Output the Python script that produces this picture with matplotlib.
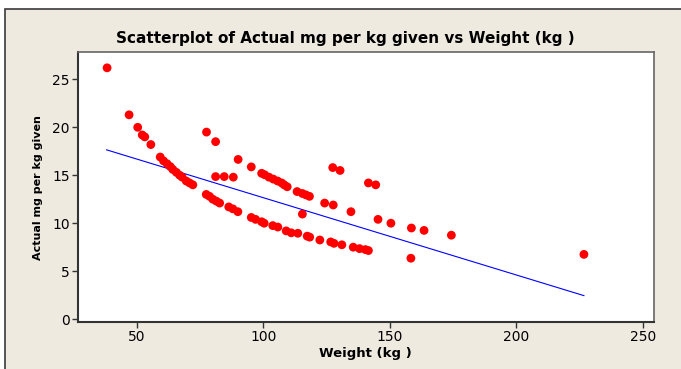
import numpy as np
import matplotlib
matplotlib.use("Agg")
import matplotlib.pyplot as plt
from matplotlib.patches import Rectangle

# Weight (kg) and actual mg per kg given
weight = [
    38.2, 46.9, 50.3, 52.1, 53.1, 55.5, 59.2, 60.5, 61.9, 63.2, 64.2, 65.6,
    66.9, 67.9, 69.5, 70.8, 72.1, 77.4, 78.7, 80.0, 81.4, 82.7, 86.3, 87.9,
    89.9, 95.2, 96.9, 99.3, 100.3, 103.7, 105.7, 109.0, 111.0, 113.6, 117.3,
    118.3, 122.3, 126.6, 127.9, 131.0, 135.5, 138.0, 140.3, 141.5,
    77.5, 81.1, 90.0, 95.2, 99.3, 100.5, 102.2, 103.9, 105.6, 107.2, 108.2,
    109.4, 113.3, 115.4, 116.8, 118.2, 124.2, 127.6,
    81.1, 84.5, 88.1, 115.4, 134.6, 145.3, 150.4, 158.5, 163.5, 174.3,
    158.3, 226.7, 127.4, 130.3, 141.5, 144.4,
]
mg_per_kg = [
    26.2, 21.3, 20.0, 19.2, 19.0, 18.2, 16.9, 16.5, 16.2, 15.9, 15.6, 15.3,
    15.0, 14.8, 14.4, 14.2, 14.0, 13.0, 12.8, 12.5, 12.3, 12.1, 11.7, 11.5,
    11.2, 10.6, 10.4, 10.15, 10.0, 9.75, 9.6, 9.2, 9.0, 8.95, 8.65,
    8.55, 8.25, 8.05, 7.9, 7.75, 7.5, 7.35, 7.25, 7.15,
    19.5, 18.5, 16.65, 15.87, 15.2, 15.05, 14.8, 14.6, 14.4, 14.2, 14.0,
    13.8, 13.3, 13.1, 12.95, 12.8, 12.1, 11.9,
    14.86, 14.86, 14.8, 10.95, 11.2, 10.4, 10.0, 9.5, 9.25, 8.75,
    6.35, 6.75, 15.8, 15.5, 14.2, 14.0,
]
# regression line end points as drawn in the reference
fit_x = [38.0, 226.7]
fit_y = [17.65, 2.45]

x_ticks = [50, 100, 150, 200, 250]
y_ticks = [0, 5, 10, 15, 20, 25]

bg = "#EEEAE0"
fig = plt.figure(figsize=(6.81, 3.69), dpi=100, facecolor="white")
# beige panel with dark border (top and left edges visible)
fig.patches.append(Rectangle((5 / 681, -0.05), 1.05, 1 - 9 / 369 + 0.05,
                             transform=fig.transFigure, facecolor=bg,
                             edgecolor="#3a3a3a", linewidth=1.2, zorder=-10))

ax = fig.add_axes([78 / 681, 1 - 322 / 369, (654 - 78) / 681, (322 - 52) / 369])
ax.set_zorder(5)
ax.set_facecolor("white")

ax.scatter(weight, mg_per_kg, s=40, color="#FF0000", edgecolors="none", zorder=3)
ax.plot(fit_x, fit_y, color="#0000FF", linewidth=0.8, zorder=2)

ax.set_xlim(26.7, 254.4)
ax.set_ylim(-0.3, 27.85)
ax.set_xticks(x_ticks)
ax.set_yticks(y_ticks)
ax.tick_params(direction="out", length=4, width=1, color="#333333",
               labelsize=10, labelcolor="black", pad=2)
for sp in ax.spines.values():
    sp.set_color("#666666")
    sp.set_linewidth(1.2)
ax.spines["left"].set_color("#333333")
ax.spines["bottom"].set_color("#333333")
ax.spines["left"].set_linewidth(1.5)
ax.spines["bottom"].set_linewidth(1.5)

fig.text(345 / 681, 1 - 39 / 369, "Scatterplot of Actual mg per kg given vs Weight (kg )",
         ha="center", va="center", fontsize=11, fontweight="bold")
fig.text(365 / 681, 1 - 353 / 369, "Weight (kg )", ha="center", va="center",
         fontsize=9.5, fontweight="bold")
fig.text(38 / 681, 1 - 188 / 369, "Actual mg per kg given", ha="center", va="center",
         rotation=90, fontsize=8, fontweight="bold")

fig.savefig("out.png", dpi=100, facecolor=fig.get_facecolor())
